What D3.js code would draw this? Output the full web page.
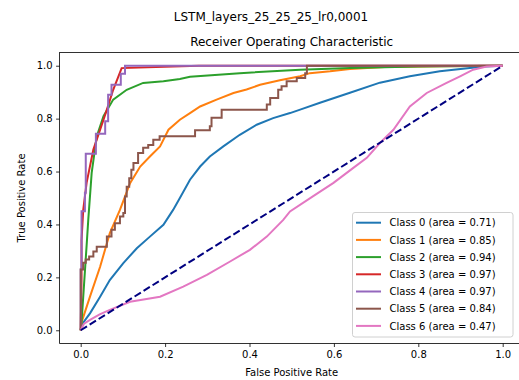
<!DOCTYPE html>
<html lang="en">
<head>
    <meta charset="UTF-8"/>
    <title>LSTM ROC curves</title>
    <script src="https://d3js.org/d3.v7.min.js"></script>
    <style>
        body { margin: 0; background: #fff; }
        svg { display: block; font-family: "DejaVu Sans", sans-serif; }
    </style>
</head>
<body>
    <div id="content-area"></div>

    <script>
        // Legend labels and AUC values
        const classNames = ["Class 0", "Class 1", "Class 2", "Class 3", "Class 4", "Class 5", "Class 6"];
        const areas = ["0.71", "0.85", "0.94", "0.97", "0.97", "0.84", "0.47"];
        const colors = ["#1f77b4", "#ff7f0e", "#2ca02c", "#d62728", "#9467bd", "#8c564b", "#e377c2"];
        const tickValues = [0.0, 0.2, 0.4, 0.6, 0.8, 1.0];

        // ROC points [fpr, tpr]
        const class0 = [[0,0],[0.002,0.02],[0.022,0.064],[0.046,0.127],[0.069,0.19],[0.101,0.254],[0.133,0.31],
            [0.164,0.354],[0.196,0.399],[0.219,0.455],[0.235,0.5],[0.259,0.569],[0.283,0.619],[0.306,0.657],
            [0.338,0.695],[0.377,0.739],[0.417,0.777],[0.456,0.802],[0.496,0.821],[0.52,0.834],[0.567,0.86],
            [0.638,0.898],[0.709,0.936],[0.78,0.96],[0.851,0.979],[0.922,0.991],[0.958,0.997],[1,1]];
        const class1 = [[0,0],[0.002,0.03],[0.022,0.127],[0.046,0.24],[0.069,0.367],[0.093,0.455],[0.117,0.556],
            [0.141,0.619],[0.164,0.657],[0.188,0.695],[0.208,0.758],[0.235,0.796],[0.259,0.821],[0.283,0.846],
            [0.322,0.872],[0.362,0.897],[0.393,0.91],[0.425,0.928],[0.472,0.945],[0.52,0.96],[0.543,0.972],
            [0.591,0.979],[0.638,0.988],[0.72,0.995],[0.85,0.998],[1,1]];
        const class2 = [[0,0],[0.002,0.03],[0.014,0.32],[0.018,0.419],[0.026,0.595],[0.038,0.733],[0.054,0.809],
            [0.077,0.872],[0.109,0.909],[0.148,0.935],[0.196,0.941],[0.235,0.95],[0.259,0.958],[0.377,0.972],
            [0.52,0.985],[0.638,0.991],[0.8,0.997],[1,1]];
        const class3 = [[0,0],[0.002,0.2],[0.002,0.34],[0.006,0.455],[0.014,0.557],[0.03,0.683],[0.046,0.758],
            [0.062,0.834],[0.077,0.909],[0.097,0.991],[0.28,1.0],[1,1]];
        const class4 = [[0,0],[0,0.23],[0.002,0.23],[0.002,0.45],[0.01,0.45],[0.01,0.52],[0.012,0.52],
            [0.012,0.667],[0.036,0.667],[0.036,0.743],[0.058,0.743],[0.058,0.79],[0.065,0.79],[0.065,0.89],
            [0.073,0.89],[0.073,0.928],[0.095,0.928],[0.095,0.97],[0.105,0.97],[0.105,1.0],[1,1]];
        const class5 = [[0,0],[0,0.23],[0.006,0.23],[0.006,0.255],[0.012,0.255],[0.012,0.268],[0.02,0.268],
            [0.02,0.279],[0.03,0.279],[0.03,0.298],[0.038,0.298],[0.038,0.316],[0.062,0.316],[0.062,0.354],
            [0.073,0.354],[0.073,0.38],[0.081,0.38],[0.081,0.405],[0.093,0.405],[0.093,0.43],[0.101,0.43],
            [0.101,0.443],[0.105,0.443],[0.105,0.506],[0.109,0.506],[0.109,0.543],[0.115,0.543],[0.115,0.575],
            [0.12,0.575],[0.12,0.607],[0.125,0.607],[0.125,0.632],[0.136,0.632],[0.136,0.67],[0.148,0.67],
            [0.148,0.69],[0.16,0.69],[0.16,0.7],[0.172,0.7],[0.172,0.72],[0.187,0.72],[0.187,0.733],
            [0.271,0.733],[0.271,0.756],[0.306,0.756],[0.306,0.771],[0.31,0.771],[0.31,0.803],[0.334,0.803],
            [0.334,0.834],[0.441,0.834],[0.441,0.853],[0.449,0.853],[0.449,0.878],[0.468,0.878],[0.468,0.909],
            [0.476,0.909],[0.476,0.922],[0.488,0.922],[0.488,0.941],[0.512,0.941],[0.512,0.954],[0.532,0.954],
            [0.532,0.972],[0.536,0.972],[0.536,1.0],[1,1]];
        const class6 = [[0,0],[0.008,0.025],[0.022,0.039],[0.045,0.06],[0.069,0.077],[0.117,0.108],[0.188,0.127],
            [0.243,0.165],[0.299,0.209],[0.354,0.26],[0.401,0.304],[0.441,0.354],[0.48,0.417],[0.496,0.449],
            [0.551,0.507],[0.599,0.557],[0.646,0.614],[0.678,0.652],[0.709,0.708],[0.741,0.758],[0.78,0.846],
            [0.82,0.897],[0.867,0.935],[0.899,0.96],[0.93,0.985],[0.962,0.997],[1,1]];
        const curves = [class0, class1, class2, class3, class4, class5, class6];

        // Chart dimensions (axes box runs slightly past the right edge, as in the source image)
        const w = 519;
        const h = 380;
        const box = { left: 59.6, right: 523.8, top: 52.5, bottom: 343.5 };

        const svg = d3.select("#content-area")
            .append("svg")
            .attr("width", w)
            .attr("height", h);

        const x = d3.scaleLinear().domain([-0.05, 1.05]).range([box.left, box.right]);
        const y = d3.scaleLinear().domain([-0.05, 1.05]).range([box.bottom, box.top]);

        // Axes
        const fmt = d3.format(".1f");
        svg.append("g")
            .attr("transform", `translate(0, ${box.bottom})`)
            .call(d3.axisBottom(x).tickValues(tickValues).tickFormat(fmt).tickSize(3.5).tickPadding(3.5).tickSizeOuter(0))
            .call(g => g.select(".domain").remove())
            .selectAll("text").attr("font-size", "10px").attr("fill", "#000").attr("font-family", "DejaVu Sans");

        svg.append("g")
            .attr("transform", `translate(${box.left}, 0)`)
            .call(d3.axisLeft(y).tickValues(tickValues).tickFormat(fmt).tickSize(3.5).tickPadding(3.5).tickSizeOuter(0))
            .call(g => g.select(".domain").remove())
            .selectAll("text").attr("font-size", "10px").attr("fill", "#000").attr("font-family", "DejaVu Sans");

        svg.selectAll(".tick line").attr("stroke", "#000").attr("stroke-width", 0.8);

        // ROC curves
        const line = d3.line().x(d => x(d[0])).y(d => y(d[1]));
        svg.selectAll(".roc")
            .data(curves)
            .enter()
            .append("path")
            .attr("class", "roc")
            .attr("d", line)
            .attr("fill", "none")
            .attr("stroke", (d, i) => colors[i])
            .attr("stroke-width", 2);

        // Chance diagonal
        svg.append("path")
            .attr("d", line([[0, 0], [1, 1]]))
            .attr("fill", "none")
            .attr("stroke", "navy")
            .attr("stroke-width", 2)
            .attr("stroke-dasharray", "7.4,3.2");

        // Frame
        svg.append("rect")
            .attr("x", box.left)
            .attr("y", box.top)
            .attr("width", box.right - box.left)
            .attr("height", box.bottom - box.top)
            .attr("fill", "none")
            .attr("stroke", "#000")
            .attr("stroke-width", 0.8);

        // Legend
        const lg = svg.append("g");
        lg.append("rect")
            .attr("x", 352.5)
            .attr("y", 212.5)
            .attr("width", 160.5)
            .attr("height", 124.5)
            .attr("rx", 2.5)
            .attr("fill", "#fff")
            .attr("fill-opacity", 0.8)
            .attr("stroke", "#d0d0d0")
            .attr("stroke-width", 1);

        const rowY = i => 222.7 + i * 17.2;
        lg.selectAll(".lg-line")
            .data(classNames)
            .enter()
            .append("line")
            .attr("x1", 356)
            .attr("x2", 381)
            .attr("y1", (d, i) => rowY(i))
            .attr("y2", (d, i) => rowY(i))
            .attr("stroke", (d, i) => colors[i])
            .attr("stroke-width", 2);

        lg.selectAll(".lg-text")
            .data(classNames)
            .enter()
            .append("text")
            .attr("x", 389.5)
            .attr("y", (d, i) => rowY(i) + 3.6)
            .attr("font-size", "10px")
            .attr("fill", "#000")
            .text((d, i) => `${d} (area = ${areas[i]})`);

        // Titles and axis labels
        svg.append("text")
            .attr("x", 271)
            .attr("y", 21)
            .attr("text-anchor", "middle")
            .attr("font-size", "12px")
            .text("LSTM_layers_25_25_25_lr0,0001");

        svg.append("text")
            .attr("x", (box.left + box.right) / 2)
            .attr("y", 46)
            .attr("text-anchor", "middle")
            .attr("font-size", "12px")
            .text("Receiver Operating Characteristic");

        svg.append("text")
            .attr("x", (box.left + box.right) / 2)
            .attr("y", 376)
            .attr("text-anchor", "middle")
            .attr("font-size", "10px")
            .text("False Positive Rate");

        svg.append("text")
            .attr("transform", "rotate(-90)")
            .attr("x", -(box.top + box.bottom) / 2)
            .attr("y", 25)
            .attr("text-anchor", "middle")
            .attr("font-size", "10px")
            .text("True Positive Rate");
    </script>
</body>
</html>
